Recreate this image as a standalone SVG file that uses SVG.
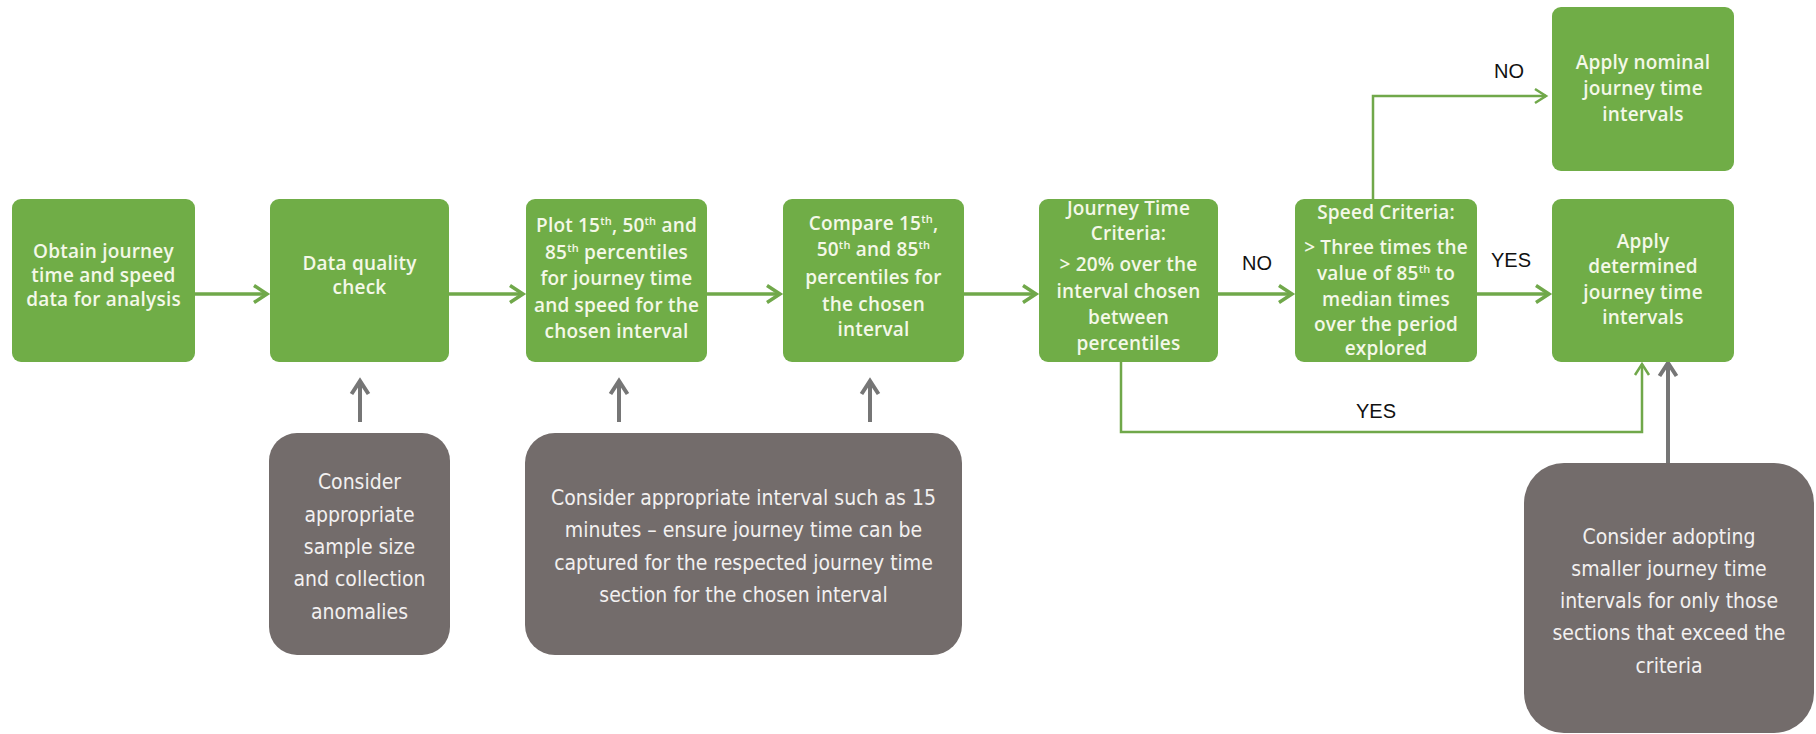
<svg xmlns="http://www.w3.org/2000/svg" width="1816" height="734" viewBox="0 0 1816 734">
  <style>
    .step { fill: #70AD47; }
    .note { fill: #736C6B; }
    .st { font-family: "Open Sans", "Liberation Sans", sans-serif; font-weight: 600; font-size: 19px; fill: #F4F8E8; text-anchor: middle; letter-spacing: 0.2px; }
    .nt { font-family: "DejaVu Sans Condensed", "DejaVu Sans", sans-serif; font-size: 21px; fill: #F2F0F0; text-anchor: middle; }
    .lbl { font-family: "Liberation Sans", sans-serif; font-size: 20px; fill: #111111; text-anchor: middle; }
    .flow { fill: none; stroke: #70A84A; stroke-width: 3.5; }
    .flow-thin { fill: none; stroke: #70A84A; stroke-width: 2.5; }
    .feed { fill: none; stroke: #767676; stroke-width: 4; }
  </style>
  <defs>
    <marker id="ah-green" markerUnits="userSpaceOnUse" markerWidth="24" markerHeight="24" viewBox="0 0 24 24" refX="20" refY="12" orient="auto">
      <path d="M7,3.5 L20,12 L7,20.5" fill="none" stroke="#70A84A" stroke-width="3.5"/>
    </marker>
    <marker id="ah-green-thin" markerUnits="userSpaceOnUse" markerWidth="20" markerHeight="20" viewBox="0 0 20 20" refX="17" refY="10" orient="auto">
      <path d="M6,3 L17,10 L6,17" fill="none" stroke="#70A84A" stroke-width="2.5"/>
    </marker>
    <marker id="ah-grey" markerUnits="userSpaceOnUse" markerWidth="24" markerHeight="24" viewBox="0 0 24 24" refX="20" refY="12" orient="auto">
      <path d="M7,3.5 L20,12 L7,20.5" fill="none" stroke="#767676" stroke-width="4"/>
    </marker>
  </defs>

  <rect width="1816" height="734" fill="#FFFFFF"/>

  <!-- connectors -->
  <g id="connectors">
    <line class="flow" x1="195" y1="294" x2="267" y2="294" marker-end="url(#ah-green)"/>
    <line class="flow" x1="449" y1="294" x2="523" y2="294" marker-end="url(#ah-green)"/>
    <line class="flow" x1="707" y1="294" x2="780" y2="294" marker-end="url(#ah-green)"/>
    <line class="flow" x1="964" y1="294" x2="1036" y2="294" marker-end="url(#ah-green)"/>
    <line class="flow" x1="1218" y1="294" x2="1292" y2="294" marker-end="url(#ah-green)"/>
    <line class="flow" x1="1477" y1="294" x2="1549" y2="294" marker-end="url(#ah-green)"/>
    <path class="flow-thin" d="M1373,199 V96 H1546" marker-end="url(#ah-green-thin)"/>
    <path class="flow-thin" d="M1121,362 V432 H1642 V364" marker-end="url(#ah-green-thin)"/>
    <line class="feed" x1="360" y1="422" x2="360" y2="381" marker-end="url(#ah-grey)"/>
    <line class="feed" x1="619" y1="422" x2="619" y2="381" marker-end="url(#ah-grey)"/>
    <line class="feed" x1="870" y1="422" x2="870" y2="381" marker-end="url(#ah-grey)"/>
    <line class="feed" x1="1668" y1="463" x2="1668" y2="363" marker-end="url(#ah-grey)"/>
    <text class="lbl" x="1509" y="78">NO</text>
    <text class="lbl" x="1257" y="270">NO</text>
    <text class="lbl" x="1511" y="267">YES</text>
    <text class="lbl" x="1376" y="418">YES</text>
  </g>

  <g id="obtain-data">
    <rect class="step" x="12" y="199" width="183" height="163" rx="9"/>
    <text class="st" x="103.5" y="258">Obtain journey</text>
    <text class="st" x="103.5" y="282">time and speed</text>
    <text class="st" x="103.5" y="306">data for analysis</text>
  </g>

  <g id="quality-check">
    <rect class="step" x="270" y="199" width="179" height="163" rx="9"/>
    <text class="st" x="359.5" y="270">Data quality</text>
    <text class="st" x="359.5" y="294">check</text>
  </g>

  <g id="plot-percentiles">
    <rect class="step" x="526" y="199" width="181" height="163" rx="9"/>
    <text class="st" x="616.5" y="232">Plot 15<tspan dy="-7" font-size="11">th</tspan><tspan dy="7">, 50</tspan><tspan dy="-7" font-size="11">th</tspan><tspan dy="7"> and</tspan></text>
    <text class="st" x="616.5" y="258.5">85<tspan dy="-7" font-size="11">th</tspan><tspan dy="7"> percentiles</tspan></text>
    <text class="st" x="616.5" y="285">for journey time</text>
    <text class="st" x="616.5" y="311.5">and speed for the</text>
    <text class="st" x="616.5" y="338">chosen interval</text>
  </g>

  <g id="compare-percentiles">
    <rect class="step" x="783" y="199" width="181" height="163" rx="9"/>
    <text class="st" x="873.5" y="230">Compare 15<tspan dy="-7" font-size="11">th</tspan><tspan dy="7">,</tspan></text>
    <text class="st" x="873.5" y="256">50<tspan dy="-7" font-size="11">th</tspan><tspan dy="7"> and 85</tspan><tspan dy="-7" font-size="11">th</tspan></text>
    <text class="st" x="873.5" y="284">percentiles for</text>
    <text class="st" x="873.5" y="311">the chosen</text>
    <text class="st" x="873.5" y="336">interval</text>
  </g>

  <g id="journey-time-criteria">
    <rect class="step" x="1039" y="199" width="179" height="163" rx="9"/>
    <text class="st" x="1128.5" y="215">Journey Time</text>
    <text class="st" x="1128.5" y="240">Criteria:</text>
    <text class="st" x="1128.5" y="271">&gt; 20% over the</text>
    <text class="st" x="1128.5" y="298">interval chosen</text>
    <text class="st" x="1128.5" y="324">between</text>
    <text class="st" x="1128.5" y="350">percentiles</text>
  </g>

  <g id="speed-criteria">
    <rect class="step" x="1295" y="199" width="182" height="163" rx="9"/>
    <text class="st" x="1386" y="219">Speed Criteria:</text>
    <text class="st" x="1386" y="254">&gt; Three times the</text>
    <text class="st" x="1386" y="280">value of 85<tspan dy="-7" font-size="11">th</tspan><tspan dy="7"> to</tspan></text>
    <text class="st" x="1386" y="306">median times</text>
    <text class="st" x="1386" y="331">over the period</text>
    <text class="st" x="1386" y="355">explored</text>
  </g>

  <g id="apply-nominal">
    <rect class="step" x="1552" y="7" width="182" height="164" rx="9"/>
    <text class="st" x="1643" y="69">Apply nominal</text>
    <text class="st" x="1643" y="95">journey time</text>
    <text class="st" x="1643" y="121">intervals</text>
  </g>

  <g id="apply-determined">
    <rect class="step" x="1552" y="199" width="182" height="163" rx="9"/>
    <text class="st" x="1643" y="248">Apply</text>
    <text class="st" x="1643" y="273">determined</text>
    <text class="st" x="1643" y="299">journey time</text>
    <text class="st" x="1643" y="324">intervals</text>
  </g>

  <g id="note-sample-size">
    <rect class="note" x="269" y="433" width="181" height="222" rx="28"/>
    <text class="nt" x="359.5" y="489">Consider</text>
    <text class="nt" x="359.5" y="522">appropriate</text>
    <text class="nt" x="359.5" y="554">sample size</text>
    <text class="nt" x="359.5" y="586">and collection</text>
    <text class="nt" x="359.5" y="619">anomalies</text>
  </g>

  <g id="note-interval">
    <rect class="note" x="525" y="433" width="437" height="222" rx="30"/>
    <text class="nt" x="743.5" y="505">Consider appropriate interval such as 15</text>
    <text class="nt" x="743.5" y="537">minutes – ensure journey time can be</text>
    <text class="nt" x="743.5" y="570">captured for the respected journey time</text>
    <text class="nt" x="743.5" y="602">section for the chosen interval</text>
  </g>

  <g id="note-smaller-intervals">
    <rect class="note" x="1524" y="463" width="290" height="270" rx="40"/>
    <text class="nt" x="1669" y="544">Consider adopting</text>
    <text class="nt" x="1669" y="576">smaller journey time</text>
    <text class="nt" x="1669" y="608">intervals for only those</text>
    <text class="nt" x="1669" y="640">sections that exceed the</text>
    <text class="nt" x="1669" y="673">criteria</text>
  </g>
</svg>
